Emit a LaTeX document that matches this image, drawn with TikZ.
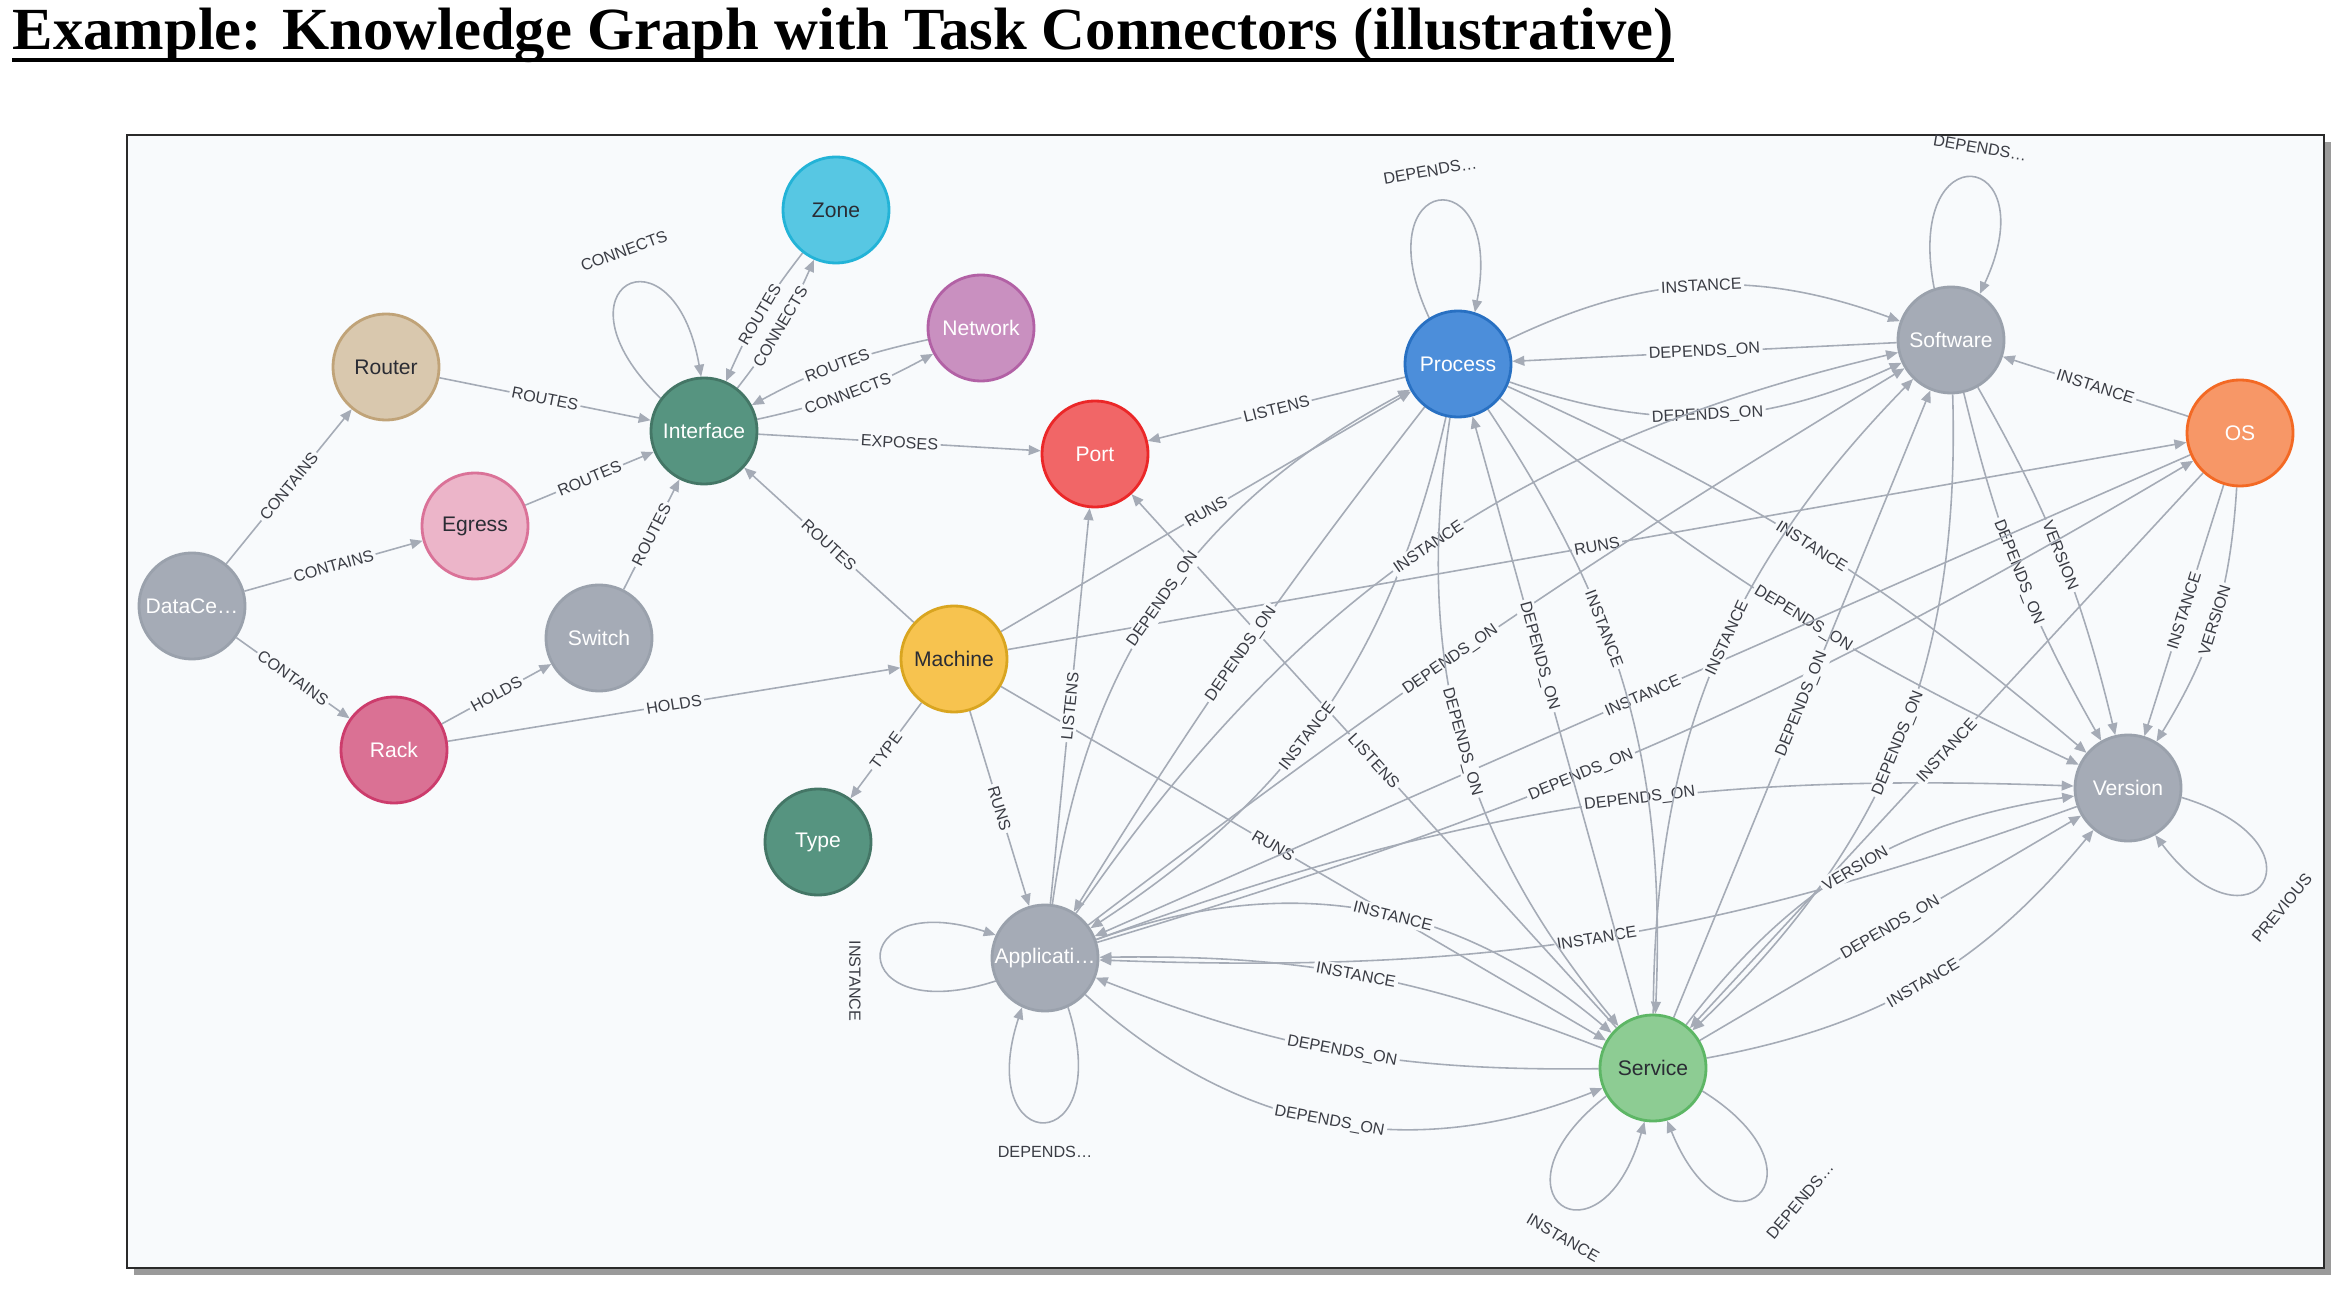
\documentclass[tikz,border=0pt]{standalone}
\usepackage{fontspec}
\setmainfont{Liberation Serif}
\newfontfamily\lsans{Liberation Sans}
\usetikzlibrary{arrows.meta,calc}
\definecolor{edgec}{HTML}{A5ABB6}
\definecolor{labc}{HTML}{3A3C44}
\definecolor{panelbg}{HTML}{F8FAFC}
\definecolor{framec}{HTML}{2A2A2A}
\definecolor{shadowc}{HTML}{9A9A9A}
\definecolor{dtext}{HTML}{2A2C34}
\definecolor{cgray}{HTML}{A5ABB6}\definecolor{cgrayb}{HTML}{9AA1AC}
\definecolor{crouter}{HTML}{D9C8AE}\definecolor{crouterb}{HTML}{C0A378}
\definecolor{cegress}{HTML}{ECB5C9}\definecolor{cegressb}{HTML}{DA7298}
\definecolor{crack}{HTML}{DA7194}\definecolor{crackb}{HTML}{CC3C6C}
\definecolor{cinter}{HTML}{569480}\definecolor{cinterb}{HTML}{447666}
\definecolor{czone}{HTML}{57C7E3}\definecolor{czoneb}{HTML}{23B3D7}
\definecolor{cnet}{HTML}{C990C0}\definecolor{cnetb}{HTML}{B261A5}
\definecolor{cport}{HTML}{F16667}\definecolor{cportb}{HTML}{EB2728}
\definecolor{cmach}{HTML}{F7C34F}\definecolor{cmachb}{HTML}{D9A520}
\definecolor{cproc}{HTML}{4C8EDA}\definecolor{cprocb}{HTML}{2870C2}
\definecolor{cos}{HTML}{F79767}\definecolor{cosb}{HTML}{F36924}
\definecolor{cserv}{HTML}{8DCC93}\definecolor{cservb}{HTML}{5DB665}
\pgfdeclarelayer{bglayer}
\pgfdeclarelayer{edgelayer}
\pgfsetlayers{bglayer,edgelayer,main}
\newcounter{ec}
\newcommand{\edg}[5][]{\stepcounter{ec}\draw[edge] (#3) to[#1] node[el,#2] (e\arabic{ec}) {#5} (#4);}
\tikzset{
  gn/.style={circle, minimum size=1.06cm, inner sep=0pt, line width=0.8pt, font=\lsans\fontsize{6}{7}\selectfont},
  graynode/.style={gn, fill=cgray, draw=cgrayb, text=white},
  edge/.style={draw=edgec, line width=0.45pt, -{Triangle[length=3.4pt,width=2.8pt]}},
  el/.style={font=\lsans\fontsize{4.6}{5}\selectfont, text=labc, fill=panelbg, inner sep=0.7pt, sloped, midway},
  ll/.style={font=\lsans\fontsize{4.6}{5}\selectfont, text=labc, inner sep=0.7pt},
  loopd/.style={edge, distance=1.6cm}
}
\begin{document}
\begin{tikzpicture}[x=0.01cm,y=0.01cm]
\useasboundingbox (0,0) rectangle (2348,1290);
\begin{pgfonlayer}{bglayer}
\fill[white] (0,0) rectangle (2348,1290);
\fill[shadowc] (134,15) rectangle (2331,1148);
\draw[fill=panelbg, draw=framec, line width=0.8pt] (127,22) rectangle (2324,1155);
\end{pgfonlayer}

% title
\node[anchor=base west, inner sep=0pt, font=\fontsize{17}{20}\selectfont\bfseries] (title) at (12,1240)
  {\resizebox{16.6cm}{\height}{Example: Knowledge Graph with Task Connectors (illustrative)}};
\draw[line width=0.9pt] ([yshift=-0.1cm]title.base west) -- ([yshift=-0.1cm]title.base east);

% nodes
\node[graynode] (DC) at (192,684) {DataCe…};
\node[gn, fill=crouter, draw=crouterb, text=dtext] (Router) at (386,923) {Router};
\node[gn, fill=cegress, draw=cegressb, text=dtext] (Egress) at (475,764) {Egress};
\node[graynode] (Switch) at (599,652) {Switch};
\node[gn, fill=crack, draw=crackb, text=white] (Rack) at (394,540) {Rack};
\node[gn, fill=cinter, draw=cinterb, text=white] (If) at (704,859) {Interface};
\node[gn, fill=czone, draw=czoneb, text=dtext] (Zone) at (836,1080) {Zone};
\node[gn, fill=cnet, draw=cnetb, text=white] (Network) at (981,962) {Network};
\node[gn, fill=cport, draw=cportb, text=white] (Port) at (1095,836) {Port};
\node[gn, fill=cmach, draw=cmachb, text=dtext] (Machine) at (954,631) {Machine};
\node[gn, fill=cinter, draw=cinterb, text=white] (Type) at (818,448) {Type};
\node[gn, fill=cproc, draw=cprocb, text=white] (Process) at (1458,926) {Process};
\node[graynode] (Software) at (1951,950) {Software};
\node[gn, fill=cos, draw=cosb, text=white] (OS) at (2240,857) {OS};
\node[graynode] (Version) at (2128,502) {Version};
\node[graynode] (App) at (1045,332) {Applicati…};
\node[gn, fill=cserv, draw=cservb, text=dtext] (Service) at (1653,222) {Service};

\begin{pgfonlayer}{edgelayer}
% left cluster
\edg{}{DC}{Router}{CONTAINS}
\edg{}{DC}{Egress}{CONTAINS}
\edg{}{DC}{Rack}{CONTAINS}
\edg{}{Router}{If}{ROUTES}
\edg{}{Egress}{If}{ROUTES}
\edg{}{Switch}{If}{ROUTES}
\edg{}{Rack}{Switch}{HOLDS}
\edg{}{Rack}{Machine}{HOLDS}
\edg[bend right=7]{}{Zone}{If}{ROUTES}
\edg[bend right=7]{}{If}{Zone}{CONNECTS}
\edg[bend right=8]{}{Network}{If}{ROUTES}
\edg[bend right=8]{}{If}{Network}{CONNECTS}
\edg{}{If}{Port}{EXPOSES}
\edg{}{Machine}{If}{ROUTES}
\edg{}{Machine}{Type}{TYPE}
\edg{}{Machine}{App}{RUNS}
\edg{}{Machine}{Process}{RUNS}
\edg{}{Machine}{OS}{RUNS}
\edg{pos=0.45}{Machine}{Service}{RUNS}
\edg{}{Process}{Port}{LISTENS}
\edg{}{App}{Port}{LISTENS}
\edg{}{Service}{Port}{LISTENS}
% process / software
\edg[bend left=23]{}{Process}{Software}{INSTANCE}
\edg{}{Software}{Process}{DEPENDS\_ON}
\edg[bend right=22]{}{Process}{Software}{DEPENDS\_ON}
\edg{}{OS}{Software}{INSTANCE}
\edg[bend left=8]{}{Process}{Version}{INSTANCE}
\edg[bend right=7]{pos=0.55}{Process}{Version}{DEPENDS\_ON}
\edg[bend left=8]{}{Software}{Version}{VERSION}
\edg[bend right=8]{}{Software}{Version}{DEPENDS\_ON}
\edg{}{OS}{Version}{INSTANCE}
\edg[bend left=14]{}{OS}{Version}{VERSION}
% application
\edg[bend left=27]{}{App}{Process}{DEPENDS\_ON}
\edg[bend right=3]{}{Process}{App}{DEPENDS\_ON}
\edg[bend left=22]{pos=0.55}{Process}{App}{INSTANCE}
\edg[bend left=21]{}{App}{Software}{INSTANCE}
\edg[bend left=3]{pos=0.45}{App}{Software}{DEPENDS\_ON}
\edg{pos=0.5}{OS}{App}{INSTANCE}
\edg[bend right=7]{pos=0.42}{App}{OS}{DEPENDS\_ON}
\edg[bend left=11]{pos=0.57}{App}{Version}{DEPENDS\_ON}
\edg[bend left=11]{}{Version}{App}{INSTANCE}
\edg[bend left=30]{pos=0.55}{App}{Service}{INSTANCE}
\edg[bend right=11]{}{Service}{App}{INSTANCE}
\edg[bend left=11]{}{Service}{App}{DEPENDS\_ON}
\edg[bend right=32]{}{App}{Service}{DEPENDS\_ON}
% service
\edg[bend right=24]{}{Process}{Service}{DEPENDS\_ON}
\edg{pos=0.6}{Service}{Process}{DEPENDS\_ON}
\edg[bend left=18]{pos=0.38}{Process}{Service}{INSTANCE}
\edg[bend left=22]{pos=0.55}{Service}{Software}{INSTANCE}
\edg{}{Service}{Software}{DEPENDS\_ON}
\edg[bend left=24]{}{Software}{Service}{DEPENDS\_ON}
\edg{}{OS}{Service}{INSTANCE}
\edg[bend left=22]{}{Service}{Version}{VERSION}
\edg{}{Service}{Version}{DEPENDS\_ON}
\edg[bend right=20]{}{Service}{Version}{INSTANCE}
% self loops
\draw[loopd] (If.143) to[out=136,in=100] (If.93);
\draw[loopd] (Process.122) to[out=115,in=79] (Process.72);
\draw[loopd] (Software.108) to[out=101,in=65] (Software.58);
\draw[loopd] (App.205) to[out=198,in=162] (App.155);
\draw[loopd] (App.295) to[out=288,in=252] (App.245);
\draw[loopd] (Service.211) to[out=218,in=254] (Service.261);
\draw[loopd] (Service.335) to[out=328,in=292] (Service.285);
\draw[loopd] (Version.350) to[out=343,in=307] (Version.300);
\end{pgfonlayer}

% loop labels
\node[ll, rotate=20] (lIf) at ($(If)+(-80,180)$) {CONNECTS};
\node[ll, rotate=10] (lProc) at ($(Process)+(-28,193)$) {DEPENDS…};
\node[ll, rotate=-10] (lSoft) at ($(Software)+(29,192)$) {DEPENDS…};
\node[ll, rotate=-90] (lApp1) at ($(App)+(-190,-23)$) {INSTANCE};
\node[ll] (lApp2) at ($(App)+(0,-194)$) {DEPENDS…};
\node[ll, rotate=-30] (lServ1) at ($(Service)+(-90,-170)$) {INSTANCE};
\node[ll, rotate=50] (lServ2) at ($(Service)+(147,-133)$) {DEPENDS…};
\node[ll, rotate=50] (lVer) at ($(Version)+(154,-120)$) {PREVIOUS};
\end{tikzpicture}
\end{document}
